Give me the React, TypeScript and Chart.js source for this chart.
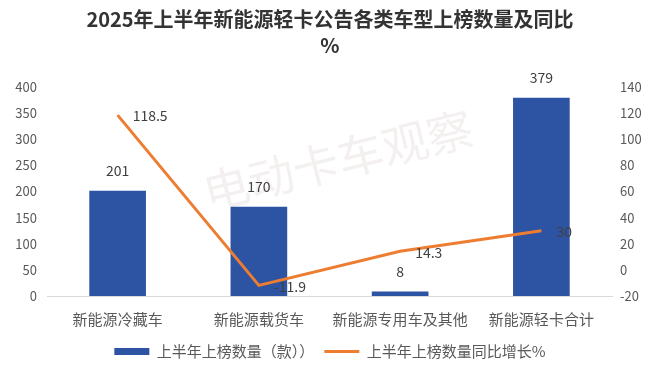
import React, { useEffect, useRef } from "react";
import { Chart, registerables } from "chart.js";

Chart.register(...registerables);

const titleLines = ["2025年上半年新能源轻卡公告各类车型上榜数量及同比", "%"];
const categories = ["新能源冷藏车", "新能源载货车", "新能源专用车及其他", "新能源轻卡合计"];
const countLabel = "上半年上榜数量（款））";
const growthLabel = "上半年上榜数量同比增长%";
const counts = [201, 170, 8, 379];
const growth = [118.5, -11.9, 14.3, 30];
const leftTicks = { min: 0, max: 400, step: 50 };
const rightTicks = { min: -20, max: 140, step: 20 };
const watermark = "电动卡车观察";

const FONT = '"Noto Sans CJK SC", "Noto Sans", sans-serif';
const BLUE = "#2D53A3";
const ORANGE = "#ED7D31";

const overlayPlugin = {
  id: "overlay",
  beforeDatasetsDraw(chart: any) {
    const ctx = chart.ctx;
    ctx.save();
    ctx.translate(338, 160);
    ctx.rotate((-14 * Math.PI) / 180);
    ctx.font = `46px ${FONT}`;
    ctx.fillStyle = "rgba(215,200,200,0.28)";
    ctx.textAlign = "center";
    ctx.textBaseline = "middle";
    ctx.fillText(watermark, 0, 0);
    ctx.restore();
  },
  afterDraw(chart: any) {
    const ctx = chart.ctx;
    ctx.save();
    ctx.fillStyle = "#333333";
    ctx.textAlign = "center";
    ctx.textBaseline = "middle";
    ctx.font = `bold 20px ${FONT}`;
    ctx.fillText(titleLines[0], 330, 19);
    ctx.fillText(titleLines[1], 330, 45);
    ctx.font = `14px ${FONT}`;
    ctx.fillStyle = "#404040";
    const barMeta = chart.getDatasetMeta(0);
    barMeta.data.forEach((el: any, i: number) => {
      ctx.textAlign = "center";
      ctx.textBaseline = "middle";
      ctx.fillText(String(counts[i]), el.x, el.y - 20);
    });
    const lineMeta = chart.getDatasetMeta(1);
    lineMeta.data.forEach((el: any, i: number) => {
      ctx.textAlign = "left";
      ctx.textBaseline = "middle";
      ctx.fillText(String(growth[i]), el.x + 15, el.y + 1);
    });
    ctx.restore();
  },
};

export default function App() {
  const ref = useRef<HTMLCanvasElement>(null);
  useEffect(() => {
    if (!ref.current) return;
    const chart = new Chart(ref.current, {
      data: {
        labels: categories,
        datasets: [
          {
            type: "bar",
            label: countLabel,
            data: counts,
            backgroundColor: BLUE,
            borderWidth: 0,
            yAxisID: "y",
            barThickness: 56,
            order: 2,
          },
          {
            type: "line",
            label: growthLabel,
            data: growth,
            borderColor: ORANGE,
            backgroundColor: ORANGE,
            borderWidth: 3,
            pointRadius: 0,
            tension: 0,
            yAxisID: "y1",
            order: 1,
          },
        ],
      } as any,
      options: {
        responsive: false,
        animation: false,
        layout: { padding: { top: 87, bottom: 8, left: 0, right: 0 } },
        plugins: {
          title: { display: false },
          tooltip: { enabled: false },
          legend: {
            position: "bottom",
            labels: {
              usePointStyle: true,
              pointStyleWidth: 35,
              boxHeight: 7,
              padding: 10,
              color: "#595959",
              font: { family: FONT, size: 15 },
              sort: (a: any, b: any) => a.datasetIndex - b.datasetIndex,
              generateLabels(chart: any) {
                const items = (Chart.defaults.plugins.legend.labels as any).generateLabels(chart);
                return items.map((it: any) => {
                  const isBar = it.datasetIndex === 0;
                  return {
                    ...it,
                    pointStyle: isBar ? "rect" : "line",
                    lineWidth: isBar ? 0 : 3,
                    strokeStyle: isBar ? BLUE : ORANGE,
                    fillStyle: isBar ? BLUE : ORANGE,
                  };
                });
              },
            },
          },
        },
        scales: {
          x: {
            grid: { display: false, drawTicks: false },
            border: { display: true, color: "#D9D9D9", width: 1 },
            ticks: { color: "#595959", font: { family: FONT, size: 15 }, padding: 14, maxRotation: 0 },
            afterFit(scale: any) {
              scale.height = 38;
            },
          },
          y: {
            position: "left",
            min: leftTicks.min,
            max: leftTicks.max,
            grid: { display: false, drawTicks: false },
            border: { display: false },
            ticks: { stepSize: leftTicks.step, color: "#595959", font: { family: FONT, size: 13 }, padding: 10 },
            afterFit(scale: any) {
              scale.width = 47;
            },
          },
          y1: {
            position: "right",
            min: rightTicks.min,
            max: rightTicks.max,
            grid: { display: false, drawTicks: false },
            border: { display: false },
            ticks: { stepSize: rightTicks.step, color: "#595959", font: { family: FONT, size: 13 }, padding: 8 },
            afterFit(scale: any) {
              scale.width = 48;
            },
          },
        },
      } as any,
      plugins: [overlayPlugin],
    });
    return () => chart.destroy();
  }, []);
  return (
    <div style={{ position: "absolute", left: 0, top: 0, width: 660, height: 377, background: "#fff" }}>
      <canvas ref={ref} width={660} height={377} />
    </div>
  );
}
